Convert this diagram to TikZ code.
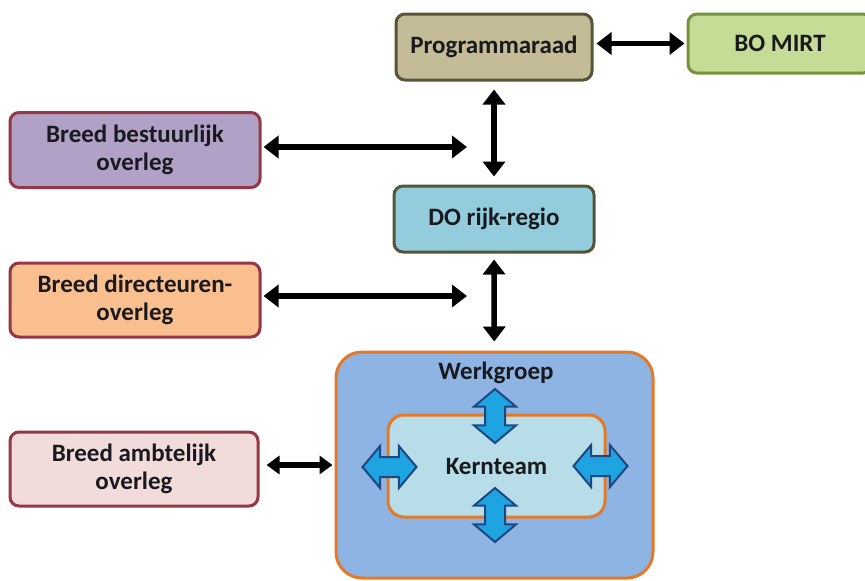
\documentclass[tikz,border=0pt]{standalone}
\usepackage{fontspec}
\setmainfont{Carlito}
\usetikzlibrary{arrows.meta,shapes.arrows}
\definecolor{txtdark}{RGB}{25,25,30}
\definecolor{progfill}{RGB}{196,188,150}
\definecolor{progline}{RGB}{88,84,56}
\definecolor{mirtfill}{RGB}{196,220,150}
\definecolor{mirtline}{RGB}{118,146,60}
\definecolor{redline}{RGB}{150,55,70}
\definecolor{bbofill}{RGB}{178,161,199}
\definecolor{dofill}{RGB}{147,205,221}
\definecolor{bdofill}{RGB}{250,191,143}
\definecolor{baofill}{RGB}{242,220,219}
\definecolor{wgfill}{RGB}{141,180,226}
\definecolor{kernfill}{RGB}{183,222,232}
\definecolor{orangeline}{RGB}{228,122,40}
\definecolor{blkfill}{RGB}{30,165,225}
\definecolor{blkline}{RGB}{30,70,130}

\begin{document}
\begin{tikzpicture}[x=1pt, y=-1pt,
  box/.style={rounded corners=9pt, line width=3pt, align=center, text=txtdark, inner sep=0pt, font=\bfseries\fontsize{25}{28}\selectfont},
  arr/.style={{Triangle[length=15pt,width=22pt]}-{Triangle[length=15pt,width=22pt]}, line width=5.5pt},
  blk/.style={double arrow, double arrow head extend=11pt, double arrow tip angle=100, draw=blkline, fill=blkfill, line width=2pt, minimum height=54pt, inner sep=9pt}
]
\clip (0,0) rectangle (865,581);
\fill[white] (0,0) rectangle (865,581);

\node[box, draw=progline, fill=progfill, minimum width=196pt, minimum height=66pt] (prog) at (494,47) {Programmaraad};
\node[box, draw=mirtline, fill=mirtfill, minimum width=184pt, minimum height=59pt] (mirt) at (780,43.5) {BO MIRT};
\node[box, draw=redline, fill=bbofill, minimum width=250pt, minimum height=75pt] (bbo) at (135,150) {Breed bestuurlijk\\overleg};
\node[box, draw=progline, fill=dofill, minimum width=200pt, minimum height=66pt] (do) at (494,219) {DO rijk-regio};
\node[box, draw=redline, fill=bdofill, minimum width=250pt, minimum height=74pt] (bdo) at (135,300) {Breed directeuren-\\overleg};
\node[box, draw=redline, fill=baofill, minimum width=248pt, minimum height=74pt] (bao) at (134,469) {Breed ambtelijk\\overleg};

% werkgroep met kernteam
\node[box, draw=orangeline, fill=wgfill, rounded corners=26pt, minimum width=317pt, minimum height=226pt] (wg) at (494.5,465) {};
\node[box, anchor=center] (wgtitle) at (496,373) {Werkgroep};
\node[box, draw=orangeline, fill=kernfill, rounded corners=16pt, minimum width=217pt, minimum height=102pt] (kern) at (496.5,466) {Kernteam};
\node[blk, rotate=90] (ktop) at (495,416) {};
\node[blk, rotate=90] (kbot) at (495,515) {};
\node[blk] (kleft) at (389.5,467) {};
\node[blk] (kright) at (600.5,466) {};

\coordinate (bbo-end) at (467,147);
\coordinate (bdo-end) at (467,296);
\draw[arr, shorten <=3pt, shorten >=2pt] (prog.east |- mirt) -- (mirt.west);
\draw[arr, shorten <=8pt, shorten >=8pt] (prog) -- (do);
\draw[arr, shorten <=2pt] (bbo.east |- bbo-end) -- (bbo-end);
\draw[arr, shorten <=6pt, shorten >=9pt] (do) -- (wg);
\draw[arr, shorten <=2pt] (bdo.east |- bdo-end) -- (bdo-end);
\draw[arr, shorten <=7pt, shorten >=2pt, {Triangle[length=13pt,width=18pt]}-{Triangle[length=13pt,width=18pt]}] (bao.east |- wg) -- (wg.west);
\end{tikzpicture}
\end{document}
